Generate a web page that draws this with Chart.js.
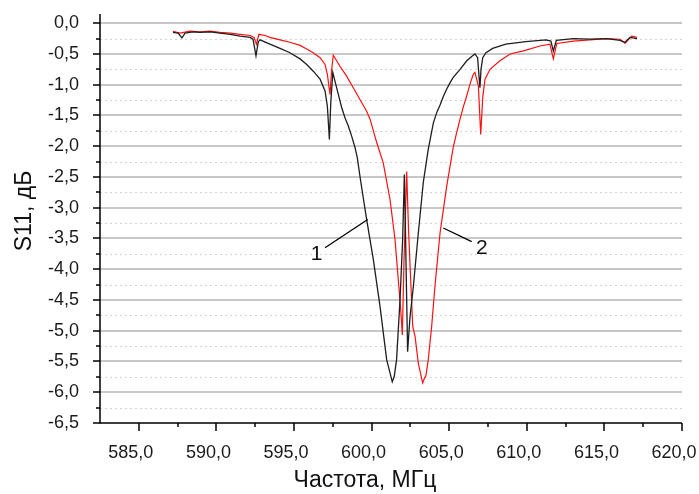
<!DOCTYPE html>
<html>
<head>
<meta charset="utf-8">
<script src="https://cdn.jsdelivr.net/npm/chart.js@4.4.1/dist/chart.umd.min.js"></script>
<style>
  html, body { margin: 0; padding: 0; background: #ffffff; }
  #wrap { width: 699px; height: 494px; position: relative; }
  canvas { display: block; }
</style>
</head>
<body>
<div id="wrap"><canvas id="c" width="699" height="494"></canvas></div>
<script>
// ---- Data ----
const freq1 = [587.20, 587.53, 587.78, 587.98, 588.50, 588.94, 589.60, 590.23, 590.90, 591.52, 592.17, 592.36, 592.55, 592.70, 592.81, 593.45, 594.10, 594.74, 595.39, 595.82, 596.24, 596.68, 597.00, 597.15, 597.28, 597.37, 597.50, 597.64, 597.86, 598.07, 598.29, 598.50, 598.72, 598.93, 599.08, 599.25, 599.47, 599.68, 600.11, 600.54, 600.97, 601.19, 601.33, 601.46, 601.61, 601.83, 602.00, 602.11, 602.18, 602.32, 602.47, 602.69, 603.01, 603.33, 603.65, 603.98, 604.20, 604.41, 604.62, 604.84, 605.05, 605.26, 605.70, 606.13, 606.45, 606.66, 606.83, 606.92, 606.98, 607.05, 607.16, 607.37, 607.80, 608.65, 609.94, 611.23, 611.55, 611.71, 611.90, 613.00, 614.07, 615.15, 616.01, 616.33, 616.65, 617.10];
const s11_1 = [-0.15, -0.16, -0.24, -0.16, -0.14, -0.15, -0.14, -0.16, -0.18, -0.21, -0.23, -0.26, -0.53, -0.30, -0.27, -0.34, -0.41, -0.48, -0.58, -0.67, -0.78, -0.91, -1.10, -1.35, -1.89, -1.29, -0.80, -0.94, -1.16, -1.37, -1.54, -1.67, -1.84, -2.02, -2.19, -2.49, -2.85, -3.19, -3.84, -4.60, -5.47, -5.69, -5.83, -5.74, -5.47, -4.50, -3.52, -2.46, -3.36, -5.34, -4.79, -4.28, -3.41, -2.59, -2.05, -1.62, -1.45, -1.33, -1.19, -1.07, -0.97, -0.88, -0.75, -0.61, -0.54, -0.50, -0.56, -0.86, -1.05, -0.75, -0.56, -0.48, -0.41, -0.34, -0.30, -0.27, -0.29, -0.45, -0.28, -0.25, -0.26, -0.25, -0.28, -0.31, -0.23, -0.25];

const freq2 = [587.20, 587.65, 588.30, 588.94, 589.60, 590.23, 590.90, 591.52, 592.17, 592.42, 592.58, 592.74, 593.13, 593.45, 594.10, 594.74, 595.39, 595.82, 596.24, 596.68, 597.00, 597.15, 597.32, 597.43, 597.53, 597.75, 597.96, 598.39, 598.82, 599.25, 599.68, 599.90, 600.33, 600.75, 601.19, 601.51, 601.72, 601.89, 601.98, 602.09, 602.26, 602.38, 602.48, 602.65, 602.80, 603.01, 603.29, 603.41, 603.50, 603.65, 603.87, 604.08, 604.41, 604.84, 605.26, 605.48, 605.70, 605.91, 606.13, 606.34, 606.55, 606.66, 606.88, 607.03, 607.17, 607.31, 607.63, 608.27, 608.92, 609.78, 610.85, 611.49, 611.71, 611.93, 613.00, 614.07, 615.15, 616.01, 616.33, 616.76, 617.10];
const s11_2 = [-0.13, -0.16, -0.13, -0.14, -0.13, -0.15, -0.16, -0.18, -0.20, -0.23, -0.34, -0.18, -0.20, -0.23, -0.27, -0.31, -0.36, -0.42, -0.48, -0.56, -0.67, -0.83, -1.16, -0.75, -0.52, -0.61, -0.70, -0.86, -1.05, -1.24, -1.43, -1.56, -1.94, -2.27, -2.87, -3.52, -4.17, -4.71, -5.07, -3.84, -2.41, -3.36, -3.95, -4.93, -5.09, -5.53, -5.85, -5.77, -5.73, -5.47, -4.93, -4.28, -3.41, -2.65, -2.02, -1.78, -1.56, -1.36, -1.18, -0.99, -0.83, -0.80, -1.02, -1.81, -1.18, -0.91, -0.75, -0.61, -0.50, -0.45, -0.37, -0.34, -0.58, -0.33, -0.29, -0.27, -0.25, -0.26, -0.33, -0.21, -0.23];

const xTicks = [585, 590, 595, 600, 605, 610, 615, 620];
const yTicks = [0, -0.5, -1, -1.5, -2, -2.5, -3, -3.5, -4, -4.5, -5, -5.5, -6, -6.5];

const xTitle = 'Частота, МГц';
const yTitle = 'S11, дБ';

// curve labels with leader lines (data coordinates)
const labelNames = ['1', '2'];
const labelTextX = [596.46, 607.11];
const labelTextY = [-3.76, -3.66];
const leaderFromX = [597.00, 604.62];
const leaderFromY = [-3.65, -3.33];
const leaderToX = [599.75, 606.45];
const leaderToY = [-3.19, -3.55];

// ---- helpers ----
const fmt = v => (Math.abs(v) < 1e-9 ? 0 : v).toFixed(1).replace('.', ',');
const xMinor = xTicks.slice(0, -1).map((v, i) => (v + xTicks[i + 1]) / 2);
const yMinor = yTicks.slice(0, -1).map((v, i) => (v + yTicks[i + 1]) / 2);
const yAll = yTicks.concat(yMinor).sort((a, b) => a - b);
const isMajorY = v => yTicks.some(t => Math.abs(t - v) < 1e-6);

const FONT = "'Liberation Sans', Arial, sans-serif";

const decorPlugin = {
  id: 'decor',
  beforeDatasetsDraw(chart) {
    const { ctx, chartArea: a, scales: { x, y } } = chart;
    ctx.save();
    ctx.strokeStyle = '#d4d4d4';
    ctx.lineWidth = 1;
    ctx.setLineDash([2, 3]);
    yMinor.forEach(v => {
      const py = Math.round(y.getPixelForValue(v)) + 0.5;
      ctx.beginPath(); ctx.moveTo(a.left, py); ctx.lineTo(a.right, py); ctx.stroke();
    });
    ctx.setLineDash([]);
    ctx.strokeStyle = '#c8c8c8';
    ctx.lineWidth = 2;
    yTicks.forEach(v => {
      if (v <= -6.5) return;
      const py = Math.round(y.getPixelForValue(v));
      ctx.beginPath(); ctx.moveTo(a.left, py); ctx.lineTo(a.right, py); ctx.stroke();
    });
    ctx.restore();
  },
  afterDatasetsDraw(chart) {
    const { ctx, chartArea: a, scales: { x, y } } = chart;
    ctx.save();
    ctx.strokeStyle = '#000';
    ctx.lineWidth = 1.5;
    ctx.beginPath();
    ctx.moveTo(a.left, a.top); ctx.lineTo(a.left, a.bottom); ctx.lineTo(a.right, a.bottom);
    ctx.stroke();
    yAll.forEach(v => {
      const py = Math.round(y.getPixelForValue(v));
      const len = isMajorY(v) ? 7 : 4;
      ctx.beginPath(); ctx.moveTo(a.left - len, py); ctx.lineTo(a.left, py); ctx.stroke();
    });
    xTicks.forEach(v => {
      const px = Math.round(x.getPixelForValue(v));
      ctx.beginPath(); ctx.moveTo(px, a.bottom); ctx.lineTo(px, a.bottom + 8); ctx.stroke();
    });
    xMinor.forEach(v => {
      const px = Math.round(x.getPixelForValue(v));
      ctx.beginPath(); ctx.moveTo(px, a.bottom); ctx.lineTo(px, a.bottom + 4); ctx.stroke();
    });
    ctx.lineWidth = 1.3;
    ctx.strokeStyle = '#000';
    ctx.fillStyle = '#111';
    ctx.font = '21px ' + FONT;
    ctx.textAlign = 'center';
    ctx.textBaseline = 'middle';
    labelNames.forEach((t, i) => {
      ctx.beginPath();
      ctx.moveTo(x.getPixelForValue(leaderFromX[i]), y.getPixelForValue(leaderFromY[i]));
      ctx.lineTo(x.getPixelForValue(leaderToX[i]), y.getPixelForValue(leaderToY[i]));
      ctx.stroke();
      ctx.fillText(t, x.getPixelForValue(labelTextX[i]), y.getPixelForValue(labelTextY[i]));
    });
    ctx.font = '23px ' + FONT;
    ctx.fillText(xTitle, 365, 481);
    ctx.translate(25, 211);
    ctx.rotate(-Math.PI / 2);
    ctx.fillText(yTitle, 0, 0);
    ctx.restore();
  }
};

new Chart(document.getElementById('c'), {
  type: 'line',
  data: {
    datasets: [
      {
        label: '1',
        data: freq1.map((f, i) => ({ x: f, y: s11_1[i] })),
        borderColor: '#1e1e1e',
        borderWidth: 1.3,
        pointRadius: 0,
        tension: 0,
        fill: false
      },
      {
        label: '2',
        data: freq2.map((f, i) => ({ x: f, y: s11_2[i] })),
        borderColor: '#ff1010',
        borderWidth: 1.2,
        pointRadius: 0,
        tension: 0,
        fill: false
      }
    ]
  },
  options: {
    responsive: false,
    animation: false,
    devicePixelRatio: 1,
    layout: { padding: { left: 0, right: 17, top: 14, bottom: 0 } },
    plugins: { legend: { display: false }, tooltip: { enabled: false }, title: { display: false } },
    scales: {
      x: {
        type: 'linear',
        min: 582.5,
        max: 620,
        grid: { display: false },
        border: { display: false },
        afterBuildTicks: s => { s.ticks = xTicks.map(v => ({ value: v })); },
        afterFit: s => { s.height = 71; s.paddingLeft = 0; s.paddingRight = 0; },
        ticks: {
          autoSkip: false,
          maxRotation: 0,
          padding: 11,
          labelOffset: -8,
          color: '#1a1a1a',
          font: { family: FONT, size: 18 },
          callback: v => fmt(v)
        }
      },
      y: {
        type: 'linear',
        min: -6.5,
        max: 0.15,
        grid: { display: false },
        border: { display: false },
        afterBuildTicks: s => { s.ticks = yAll.map(v => ({ value: v })); },
        afterFit: s => { s.width = 100; s.paddingTop = 0; s.paddingBottom = 0; },
        ticks: {
          autoSkip: false,
          padding: 13,
          color: '#1a1a1a',
          font: { family: FONT, size: 18 },
          callback: v => (isMajorY(v) ? fmt(v) : '')
        }
      }
    }
  },
  plugins: [decorPlugin]
});
</script>
</body>
</html>
